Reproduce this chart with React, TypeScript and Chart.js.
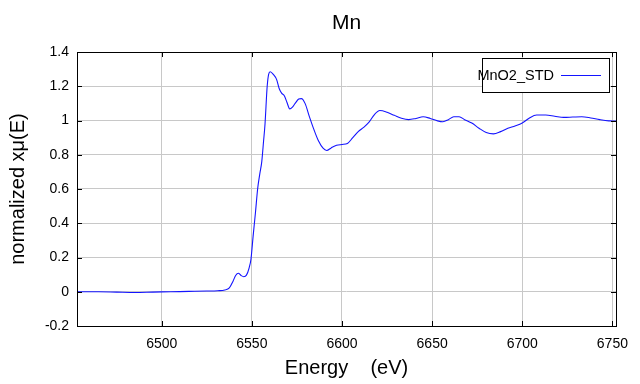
import React, { useEffect, useRef } from 'react';
import { Chart, registerables } from 'chart.js';

Chart.register(...registerables);

const titleText = 'Mn';
const seriesLabel = 'MnO2_STD';
const xTitle = 'Energy    (eV)';
const yTitle = 'normalized xμ(E)';
const xTickValues = [6500, 6550, 6600, 6650, 6700, 6750];
const yTickValues = [-0.2, 0, 0.2, 0.4, 0.6, 0.8, 1.0, 1.2, 1.4];

const energy = [
  6453, 6465, 6475, 6485, 6495, 6505, 6515, 6525, 6531, 6535,
  6537.5, 6539.5, 6541, 6542.5, 6544, 6545.5, 6547, 6548.5, 6549.5, 6550.7,
  6552, 6553.2, 6554.4, 6555.5, 6556.5, 6557.3, 6558.5, 6559.3, 6560.2, 6562,
  6563.7, 6565.2, 6566.5, 6568, 6569.5, 6571, 6572.5, 6574, 6576, 6577.5,
  6579.5, 6582, 6584.5, 6587, 6589.5, 6591.5, 6594, 6597, 6600, 6603,
  6606, 6609, 6612, 6615, 6618, 6621, 6625, 6629, 6633, 6637,
  6641, 6645, 6649, 6653, 6656, 6659, 6662, 6665, 6668, 6672,
  6676, 6680, 6684, 6688, 6692, 6696, 6700, 6704, 6708, 6713,
  6718, 6723, 6728, 6733, 6738, 6743, 6748, 6752,
];

const mu = [
  0.0, 0.0, -0.002, -0.004, -0.002, 0.0, 0.002, 0.004, 0.006, 0.01,
  0.022, 0.06, 0.095, 0.108, 0.095, 0.088, 0.097, 0.14, 0.19, 0.325,
  0.463, 0.6, 0.688, 0.76, 0.88, 0.98, 1.2, 1.27, 1.285, 1.268,
  1.24, 1.185, 1.16, 1.145, 1.105, 1.068, 1.078, 1.1, 1.125, 1.128,
  1.1, 1.02, 0.945, 0.88, 0.838, 0.825, 0.84, 0.855, 0.86, 0.866,
  0.9, 0.935, 0.96, 0.99, 1.035, 1.058, 1.048, 1.03, 1.013, 1.005,
  1.012, 1.022, 1.012, 0.998, 0.993, 1.005, 1.022, 1.022, 1.005, 0.985,
  0.955, 0.93, 0.922, 0.935, 0.955, 0.968, 0.985, 1.015, 1.032, 1.032,
  1.025, 1.018, 1.02, 1.022, 1.015, 1.005, 0.998, 0.997,
];

const FONT = '"Liberation Sans", Arial, sans-serif';
const LINE_COLOR = 'rgb(20,20,255)';

const framePlugin = {
  id: 'framePlugin',
  afterDraw(chart: any) {
    const { ctx, chartArea } = chart;
    const { left, right, top, bottom } = chartArea;
    const xs = chart.scales.x;
    const ys = chart.scales.y;
    ctx.save();
    // frame
    ctx.strokeStyle = '#000';
    ctx.lineWidth = 1;
    ctx.strokeRect(Math.round(left) + 0.5, Math.round(top) + 0.5, Math.round(right - left), Math.round(bottom - top));
    // inward ticks
    const tl = 5;
    ctx.beginPath();
    xTickValues.forEach((v) => {
      const px = Math.round(xs.getPixelForValue(v)) + 0.5;
      ctx.moveTo(px, top);
      ctx.lineTo(px, top + tl);
      ctx.moveTo(px, bottom);
      ctx.lineTo(px, bottom - tl);
    });
    yTickValues.forEach((v) => {
      const py = Math.round(ys.getPixelForValue(v)) + 0.5;
      ctx.moveTo(left, py);
      ctx.lineTo(left + tl, py);
      ctx.moveTo(right, py);
      ctx.lineTo(right - tl, py);
    });
    ctx.stroke();

    // title
    ctx.fillStyle = '#000';
    ctx.font = `21px ${FONT}`;
    ctx.textAlign = 'center';
    ctx.textBaseline = 'middle';
    ctx.fillText(titleText, (left + right) / 2, 23.5);

    // legend
    const bx = right - 134;
    const by = top + 6;
    const bw = 127;
    const bh = 34;
    ctx.fillStyle = '#fff';
    ctx.fillRect(bx, by, bw, bh);
    ctx.strokeStyle = '#000';
    ctx.strokeRect(Math.round(bx) + 0.5, Math.round(by) + 0.5, bw, bh);
    const label = chart.data.datasets[0].label;
    ctx.fillStyle = '#000';
    ctx.font = `14.5px ${FONT}`;
    ctx.textAlign = 'right';
    ctx.textBaseline = 'middle';
    ctx.fillText(label, bx + 72, by + 18);
    ctx.strokeStyle = LINE_COLOR;
    ctx.beginPath();
    ctx.moveTo(bx + 79, by + 17.5);
    ctx.lineTo(bx + 119, by + 17.5);
    ctx.stroke();
    ctx.restore();
  },
};

export default function App() {
  const ref = useRef<HTMLCanvasElement | null>(null);
  useEffect(() => {
    if (!ref.current) return;
    const points = energy.map((e, i) => ({ x: e, y: mu[i] }));
    const chart = new Chart(ref.current, {
      type: 'line',
      data: {
        datasets: [
          {
            label: seriesLabel,
            data: points,
            borderColor: LINE_COLOR,
            backgroundColor: LINE_COLOR,
            borderWidth: 1.1,
            pointRadius: 0,
            fill: false,
            cubicInterpolationMode: 'monotone',
          },
        ],
      },
      options: {
        animation: false,
        responsive: false,
        devicePixelRatio: 1,
        layout: { padding: { top: 52, right: 24, left: 0, bottom: 0 } },
        plugins: {
          legend: { display: false },
          title: { display: false },
          tooltip: { enabled: false },
        },
        scales: {
          x: {
            type: 'linear',
            min: 6453,
            max: 6752,
            afterBuildTicks: (s: any) => {
              s.ticks = xTickValues.map((v) => ({ value: v }));
            },
            afterFit: (s: any) => {
              s.height = 58;
            },
            border: { display: false },
            grid: { color: '#c8c8c8', drawTicks: false, lineWidth: 1 },
            ticks: {
              padding: 10,
              color: '#000',
              font: { family: FONT, size: 14 },
              maxRotation: 0,
              callback: (v: any) => String(v),
            },
            title: {
              display: true,
              text: xTitle,
              color: '#000',
              font: { family: FONT, size: 20 },
              padding: { top: 0, bottom: 4 },
            },
          },
          y: {
            type: 'linear',
            min: -0.2,
            max: 1.4,
            afterBuildTicks: (s: any) => {
              s.ticks = yTickValues.map((v) => ({ value: v }));
            },
            afterFit: (s: any) => {
              s.width = 77;
            },
            border: { display: false },
            grid: { color: '#c8c8c8', drawTicks: false, lineWidth: 1 },
            ticks: {
              padding: 8,
              color: '#000',
              font: { family: FONT, size: 14 },
              callback: (v: any) => String(Math.round(v * 10) / 10),
            },
            title: {
              display: true,
              text: yTitle,
              color: '#000',
              font: { family: FONT, size: 20 },
              padding: { top: 6, bottom: 0 },
            },
          },
        },
      },
      plugins: [framePlugin],
    });
    return () => chart.destroy();
  }, []);
  return (
    <div style={{ position: 'absolute', left: 0, top: 0, width: 640, height: 384, background: '#fff' }}>
      <canvas ref={ref} width={640} height={384} />
    </div>
  );
}
